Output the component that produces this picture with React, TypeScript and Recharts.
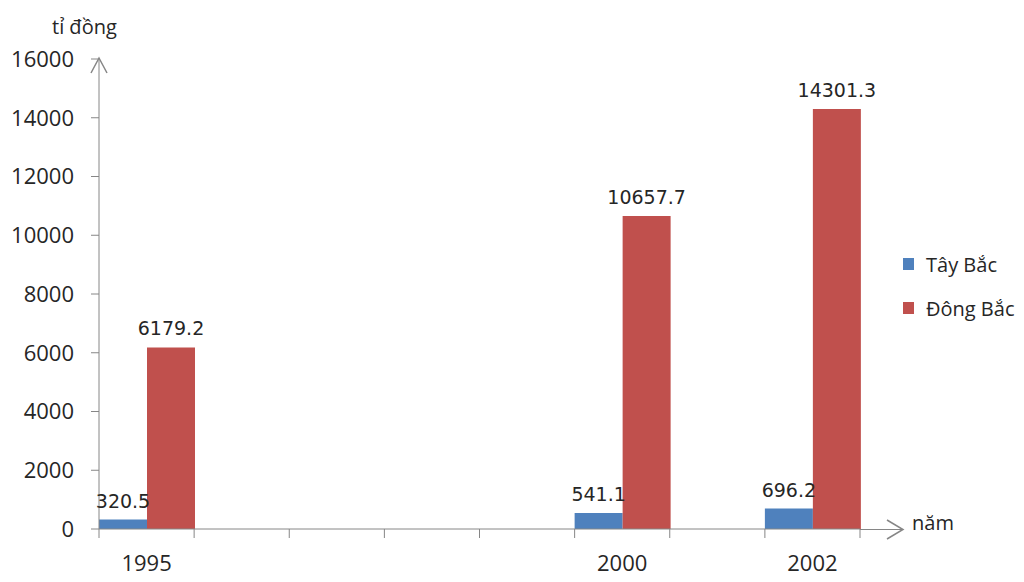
import { Bar, BarChart, LabelList, Legend, XAxis, YAxis } from "recharts";

// ---------------------------------------------------------------------------
// Data
// ---------------------------------------------------------------------------

const years = ["1995", "1996", "1997", "1998", "1999", "2000", "2001", "2002"];
const shownYears = ["1995", "2000", "2002"];
const tayBac = [320.5, null, null, null, null, 541.1, null, 696.2];
const dongBac = [6179.2, null, null, null, null, 10657.7, null, 14301.3];
const yTicks = [0, 2000, 4000, 6000, 8000, 10000, 12000, 14000, 16000];

const seriesNames = { tayBac: "Tây Bắc", dongBac: "Đông Bắc" };
const colors = { tayBac: "#4F81BD", dongBac: "#C0504D" };

const data = years.map((year, i) => ({
  year,
  tayBac: tayBac[i],
  dongBac: dongBac[i],
}));

const AXIS = "#868686";
const TEXT = "#262626";
const W = 1024;
const H = 582;
const TICK_OFFSET = 26;

// ---------------------------------------------------------------------------
// X tick: Excel style, tick marks between categories
// ---------------------------------------------------------------------------

function YearTick(props: any) {
  const { x, y, payload, index, visibleTicksCount } = props;
  const half = payload?.offset ?? 761 / years.length / 2;
  const axisY = y - TICK_OFFSET;
  const label = shownYears.includes(payload.value) ? payload.value : "";
  const isLast = index === visibleTicksCount - 1;
  return (
    <g>
      <line x1={x - half} x2={x - half} y1={axisY} y2={axisY + 9} stroke={AXIS} />
      {isLast && (
        <line x1={x + half} x2={x + half} y1={axisY} y2={axisY + 9} stroke={AXIS} />
      )}
      {label && (
        <text
          x={x}
          y={y}
          dy="0.71em"
          textAnchor="middle"
          fill={TEXT}
          fontSize={22}
          fontFamily="'Open Sans', sans-serif"
        >
          {label}
        </text>
      )}
    </g>
  );
}

// ---------------------------------------------------------------------------
// Legend
// ---------------------------------------------------------------------------

function ChartLegendContent() {
  const items = [
    { label: seriesNames.tayBac, color: colors.tayBac },
    { label: seriesNames.dongBac, color: colors.dongBac },
  ];
  return (
    <div style={{ display: "flex", flexDirection: "column", gap: 16 }}>
      {items.map((item) => (
        <div
          key={item.label}
          style={{ display: "flex", alignItems: "center", gap: 12, height: 28 }}
        >
          <div style={{ width: 11, height: 12, backgroundColor: item.color }} />
          <span
            style={{
              fontSize: 20,
              color: TEXT,
              fontFamily: "'Open Sans', sans-serif",
              whiteSpace: "nowrap",
            }}
          >
            {item.label}
          </span>
        </div>
      ))}
    </div>
  );
}

// ---------------------------------------------------------------------------
// Chart
// ---------------------------------------------------------------------------

export default function App() {
  const labelStyle = {
    fill: TEXT,
    fontSize: 19,
    fontFamily: "'DejaVu Sans', sans-serif",
  };
  return (
    <div style={{ position: "relative", width: W, height: H, background: "#fff" }}>
      <style>{"body{margin:0}"}</style>
      <BarChart
        width={W}
        height={H}
        data={data}
        barCategoryGap={0}
        barGap={0}
        margin={{ top: 59, right: 164, bottom: 0, left: 0 }}
      >
        <XAxis
          dataKey="year"
          height={53}
          interval={0}
          stroke={AXIS}
          tickLine={false}
          tickSize={0}
          tickMargin={TICK_OFFSET}
          tick={<YearTick />}
        />
        <YAxis
          width={99}
          domain={[0, 16000]}
          ticks={yTicks}
          interval={0}
          stroke={AXIS}
          tickSize={8}
          tickMargin={17}
          tick={{ fill: TEXT, fontSize: 22, fontFamily: "'Open Sans', sans-serif" }}
        />
        <Legend
          layout="horizontal"
          verticalAlign="middle"
          align="center"
          content={<ChartLegendContent />}
          wrapperStyle={{ left: 903, top: 250, width: "auto" }}
        />
        <Bar dataKey="tayBac" fill={colors.tayBac} isAnimationActive={false}>
          <LabelList dataKey="tayBac" position="top" offset={12} style={labelStyle} />
        </Bar>
        <Bar dataKey="dongBac" fill={colors.dongBac} isAnimationActive={false}>
          <LabelList dataKey="dongBac" position="top" offset={12} style={labelStyle} />
        </Bar>
      </BarChart>

      {/* axis arrows and axis titles */}
      <svg
        width={W}
        height={H}
        style={{ position: "absolute", left: 0, top: 0, pointerEvents: "none" }}
      >
        <polyline points="91,73 99,58 107,73" fill="none" stroke={AXIS} strokeWidth={1.5} />
        <line x1={860} x2={903} y1={529.5} y2={529.5} stroke={AXIS} />
        <polyline points="887,520 903,529.5 887,539" fill="none" stroke={AXIS} strokeWidth={1.5} />
        <text
          x={52}
          y={34}
          fontSize={20}
          fill={TEXT}
          fontFamily="'Open Sans', sans-serif"
        >
          tỉ đồng
        </text>
        <text
          x={912}
          y={530}
          fontSize={20}
          fill={TEXT}
          fontFamily="'Open Sans', sans-serif"
        >
          năm
        </text>
      </svg>
    </div>
  );
}
